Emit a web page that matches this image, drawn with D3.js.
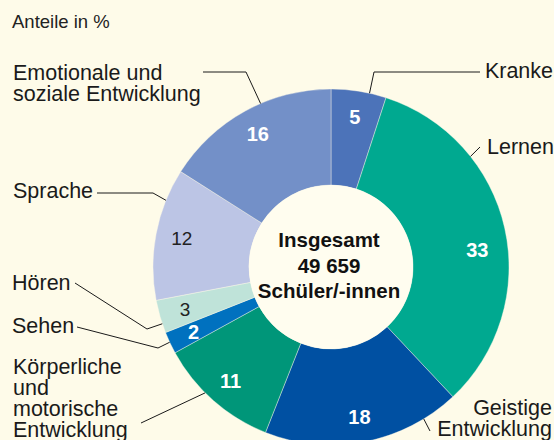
<!DOCTYPE html>
<html>
<head>
<meta charset="utf-8">
<script src="https://cdn.jsdelivr.net/npm/d3@7"></script>
<style>
  html, body { margin: 0; padding: 0; background: #fefbe9; }
  svg { display: block; font-family: "Liberation Sans", Arial, sans-serif; }
</style>
</head>
<body>
<div id="chart"></div>
<script>
// Anteile der Förderschwerpunkte in %
var categories = ["Kranke", "Lernen", "Geistige Entwicklung", "Körperliche und motorische Entwicklung",
                  "Sehen", "Hören", "Sprache", "Emotionale und soziale Entwicklung"];
var values = [5, 33, 18, 11, 2, 3, 12, 16];
var colors = ["#4c73b9", "#00a990", "#0050a2", "#009679", "#0071bf", "#bfe3d9", "#bcc5e5", "#7390c8"];
var darkValue = [false, false, false, false, false, true, true, false];
var centerLines = ["Insgesamt", "49 659", "Schüler/-innen"];

var width = 554, height = 440;
var cx = 331, cy = 267;
var rInner = 82, rOuter = 178, rLabel = 152;

var svg = d3.select("#chart").append("svg")
    .attr("width", width)
    .attr("height", height);

svg.append("rect")
    .attr("width", width)
    .attr("height", height)
    .style("fill", "#fefbe9");

svg.append("text")
    .attr("x", 12)
    .attr("y", 28)
    .style("font-size", "18.5px")
    .style("fill", "#222")
    .text("Anteile in %");

var pie = d3.pie().sort(null).value(function(d) { return d; });
var arcs = pie(values);

var arc = d3.arc().innerRadius(rInner).outerRadius(rOuter);
var labelArc = d3.arc().innerRadius(rLabel).outerRadius(rLabel);

var g = svg.append("g").attr("transform", "translate(" + cx + "," + cy + ")");

g.selectAll("path.slice")
    .data(arcs)
    .enter().append("path")
    .attr("class", "slice")
    .attr("d", arc)
    .style("fill", function(d, i) { return colors[i]; })
    .style("stroke", "#fefbe9")
    .style("stroke-width", 0.4);

// inner disk slightly lighter
g.append("circle")
    .attr("r", rInner)
    .style("fill", "#fffdef");

// value labels
g.selectAll("text.val")
    .data(arcs)
    .enter().append("text")
    .attr("class", "val")
    .attr("transform", function(d, i) {
        var c = labelArc.centroid(d);
        // 33 sits a little lower in the original
        if (i === 1) c = [c[0] - 2, c[1] + 16];
        return "translate(" + c[0] + "," + c[1] + ")";
    })
    .attr("text-anchor", "middle")
    .attr("dy", "0.36em")
    .style("font-size", function(d, i) { return darkValue[i] ? "19px" : "20px"; })
    .style("font-weight", function(d, i) { return darkValue[i] ? "normal" : "bold"; })
    .style("fill", function(d, i) { return darkValue[i] ? "#222" : "#fff"; })
    .text(function(d) { return d.data; });

// center text
g.selectAll("text.center")
    .data(centerLines)
    .enter().append("text")
    .attr("class", "center")
    .attr("x", -2)
    .attr("y", function(d, i) { return -20 + i * 25.5; })
    .attr("text-anchor", "middle")
    .style("font-size", "20.5px")
    .style("font-weight", "bold")
    .style("fill", "#111")
    .text(function(d) { return d; });

// category labels with leader lines
var layout = [
    { lines: ["Kranke"], x: 553, y: 78, anchor: "end", angle: 12.5, path: [[374, 72], [480, 72]] },
    { lines: ["Lernen"], x: 487, y: 154, anchor: "start", angle: 51.6, path: [[480, 147]] },
    { lines: ["Geistige", "Entwicklung"], x: 552, y: 415, anchor: "end", angle: 148.6, path: [[430, 431]] },
    { lines: ["Körperliche", "und", "motorische", "Entwicklung"], x: 13, y: 374, anchor: "start", angle: 225, path: [[141, 423]] },
    { lines: ["Sehen"], x: 12, y: 333, anchor: "start", angle: 245, path: [[158, 348], [77, 327]] },
    { lines: ["Hören"], x: 12, y: 290, anchor: "start", angle: 251.4, path: [[147, 329], [75, 283]] },
    { lines: ["Sprache"], x: 13, y: 198, anchor: "start", angle: 292, path: [[153, 193], [97, 193]] },
    { lines: ["Emotionale und", "soziale Entwicklung"], x: 13, y: 80, anchor: "start", angle: 336.7, path: [[246, 72], [203, 72]] }
];

var line = d3.line();

layout.forEach(function(l, i) {
    var a = l.angle * Math.PI / 180;
    var start = [cx + rOuter * Math.sin(a), cy - rOuter * Math.cos(a)];
    svg.append("path")
        .attr("d", line([start].concat(l.path)))
        .style("fill", "none")
        .style("stroke", "#1a1a1a")
        .style("stroke-width", 1);

    var t = svg.append("text")
        .attr("x", l.x)
        .attr("y", l.y)
        .attr("text-anchor", l.anchor)
        .style("font-size", "21.5px")
        .style("fill", "#1a1a1a");
    t.selectAll("tspan")
        .data(l.lines)
        .enter().append("tspan")
        .attr("x", l.x)
        .attr("dy", function(d, j) { return j === 0 ? 0 : 21; })
        .text(function(d) { return d; });
});
</script>
</body>
</html>
